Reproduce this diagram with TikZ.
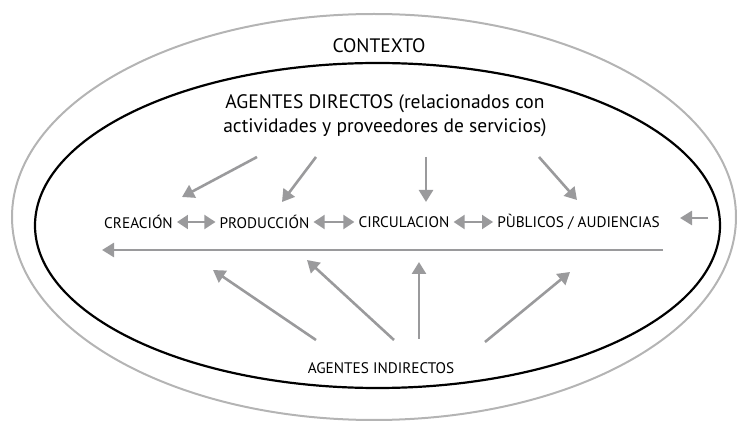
\documentclass[tikz,border=0pt]{standalone}
\usepackage{fontspec}
\setmainfont{PT Sans}
\usetikzlibrary{arrows.meta}
\definecolor{arr}{HTML}{9A9A9C}
\definecolor{outerg}{HTML}{B4B4B4}
\tikzset{
  flow/.style={draw=arr, line width=2.6pt, -{Triangle[length=12pt,width=14pt]}},
  dflow/.style={draw=arr, line width=2pt, {Triangle[length=11pt,width=14pt]}-{Triangle[length=11pt,width=14pt]}, shorten <=4pt, shorten >=4pt},
  big/.style={font=\fontsize{19.5}{24}\selectfont, align=center, inner sep=0pt},
  ctxs/.style={font=\fontsize{19.5}{22}\selectfont, inner sep=0pt},
  small/.style={font=\fontsize{15.3}{18}\selectfont, inner sep=0pt},
}
\begin{document}
\begin{tikzpicture}[x=1pt,y=-1pt]
\useasboundingbox (0,0) rectangle (740,422);
\draw[outerg, line width=2pt] (374,217) ellipse [x radius=362, y radius=203];
\draw[black, line width=2.2pt] (377.5,225.5) ellipse [x radius=342.5, y radius=162.5];

\node[ctxs] (ctx) at (379,46) {CONTEXTO};
\node[big] (dir) at (385,116) {AGENTES DIRECTOS (relacionados con\\actividades y proveedores de servicios)};

\node[small] (cre) at (138.5,222) {CREACIÓN};
\node[small] (pro) at (264.5,222) {PRODUCCIÓN};
\node[small] (cir) at (404,222) {CIRCULACION};
\node[small] (pub) at (578.5,222) {PÙBLICOS / AUDIENCIAS};
\node[small] (ind) at (381,368) {AGENTES INDIRECTOS};

\draw[dflow] (cre) -- (pro);
\draw[dflow] (pro) -- (cir);
\draw[dflow] (cir) -- (pub);

% top arrows
\coordinate (t1) at (257,157); \coordinate (h1) at (182,197);
\coordinate (t2) at (316,157); \coordinate (h2) at (282,202);
\coordinate (t3) at (426,157); \coordinate (h3) at (426,202);
\coordinate (t4) at (539,157); \coordinate (h4) at (577,200);
\draw[flow] (t1) -- (h1);
\draw[flow] (t2) -- (h2);
\draw[flow] (t3) -- (h3);
\draw[flow] (t4) -- (h4);

% right input and return line
\coordinate (r1) at (708,218); \coordinate (r2) at (680,218);
\draw[flow] (r1) -- (r2);
\coordinate (l1) at (663,250); \coordinate (l2) at (102,250);
\draw[flow] (l1) -- (l2);

% bottom arrows
\coordinate (b1) at (316,340); \coordinate (g1) at (213,270);
\coordinate (b2) at (394,340); \coordinate (g2) at (307,260);
\coordinate (b3) at (419,339); \coordinate (g3) at (419,262);
\coordinate (b4) at (485,342); \coordinate (g4) at (570,272);
\draw[flow] (b1) -- (g1);
\draw[flow] (b2) -- (g2);
\draw[flow] (b3) -- (g3);
\draw[flow] (b4) -- (g4);
\end{tikzpicture}
\end{document}
